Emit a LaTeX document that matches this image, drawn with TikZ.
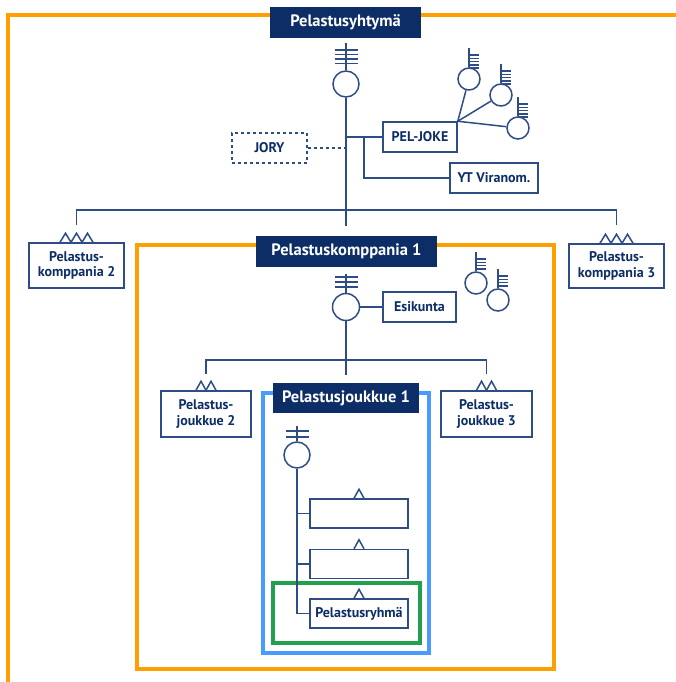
\documentclass[tikz,border=0pt]{standalone}
\usepackage{fontspec}
\setmainfont{PT Sans}
\usepackage{xcolor}
\usepackage{tikz}
\definecolor{navy}{HTML}{0C2D66}
\definecolor{lineblue}{HTML}{2E4D86}
\definecolor{frameorange}{HTML}{FFA000}
\definecolor{frameblue}{HTML}{4A9BFF}
\definecolor{framegreen}{HTML}{22A04E}

\begin{document}
\begin{tikzpicture}[x=1pt, y=-1pt,
  link/.style={draw=lineblue, line width=1.5pt},
  frame/.style={line width=4pt},
  titlebox/.style={fill=navy, text=white, font=\fontsize{16.5}{18}\selectfont\bfseries, inner sep=0pt},
  unitbox/.style={draw=lineblue, line width=1.5pt, fill=white, text=navy, font=\fontsize{14}{15.5}\selectfont\bfseries, align=center, inner sep=0pt},
  leader/.style={circle, draw=lineblue, line width=1.5pt, inner sep=0pt}]
  \useasboundingbox (0,0) rectangle (675,682);
  % Frames
  \draw[frame, frameorange] (8,690) -- (8,15) -- (680,15);
  \draw[frame, frameorange] (137,245) rectangle (554,669);
  \draw[frame, frameblue] (263,393) rectangle (429,653);
  \draw[frame, framegreen] (273,583) rectangle (420,643);
  % Titles
  \node[titlebox, minimum width=151, minimum height=31] (yhtyma) at (345.5,22.5) {Pelastusyhtymä};
  \node[titlebox, minimum width=181, minimum height=31] (komp1) at (346.5,251.5) {Pelastuskomppania 1};
  \node[titlebox, minimum width=146, minimum height=30] (jouk1) at (346,398) {Pelastusjoukkue 1};
  % Leaders
  \node[leader, minimum size=26] (c0) at (346,84) {};
  \draw[link] (c0.north) -- ++(0,-27);
  \foreach \y in {50,54.5,59,63.5} \draw[link] (334.5,\y) -- (357.5,\y);
  \node[leader, minimum size=27] (c1) at (346,307) {};
  \draw[link] (c1.north) -- ++(0,-19);
  \foreach \y in {277,282,287} \draw[link] (334.5,\y) -- (357.5,\y);
  \node[leader, minimum size=26] (c2) at (297,455) {};
  \draw[link] (c2.north) -- ++(0,-15);
  \foreach \y in {431,437} \draw[link] (285.5,\y) -- (308.5,\y);
  % Staff leaders
  \foreach \n/\cx/\cy/\k in {s1/469/79/5, s2/501/95/5, s3/518/128/5, t1/476/283/4, t2/498/300/4} {
    \node[leader, minimum size=22] (\n) at (\cx,\cy) {};
    \draw[link] (\n.north) -- ++(0,-19);
    \foreach \j in {1,...,\k} \draw[link] (\cx,\cy-11-19+3+\j*3.2) -- ++(10,0);
  }
  % Units
  \node[unitbox, dashed, minimum width=75, minimum height=30] (jory) at (269.5,148) {JORY};
  \node[unitbox, minimum width=74, minimum height=30] (peljoke) at (420,137) {PEL-JOKE};
  \node[unitbox, minimum width=88, minimum height=30] (ytvir) at (494,178) {YT Viranom.};
  \node[unitbox, minimum width=95, minimum height=45] (komp2) at (76.5,265.5) {Pelastus-\\komppania 2};
  \node[unitbox, minimum width=95, minimum height=44] (komp3) at (616.5,266) {Pelastus-\\komppania 3};
  \node[unitbox, minimum width=73, minimum height=30] (esikunta) at (419.5,307) {Esikunta};
  \node[unitbox, minimum width=90, minimum height=46] (jouk2) at (206,414) {Pelastus-\\joukkue 2};
  \node[unitbox, minimum width=91, minimum height=46] (jouk3) at (486.5,414) {Pelastus-\\joukkue 3};
  \node[unitbox, minimum width=98, minimum height=29] (ryhma1) at (359,513.5) {};
  \node[unitbox, minimum width=98, minimum height=29] (ryhma2) at (359,564) {};
  \node[unitbox, minimum width=98, minimum height=29] (ryhma3) at (359,613.5) {Pelastusryhmä};
  % Unit marks
  \foreach \n in {komp2, komp3}
    \foreach \i in {-1,0,1} \draw[link] ([xshift={\i*11-5.5}]\n.north) -- ++(5.5,-9) -- ++(5.5,9);
  \foreach \n in {jouk2, jouk3}
    \foreach \i in {-0.5,0.5} \draw[link] ([xshift={\i*10-5}]\n.north) -- ++(5,-9) -- ++(5,9);
  \foreach \n in {ryhma1, ryhma2, ryhma3}
    \draw[link] ([xshift=-5]\n.north) -- ++(5,-9) -- ++(5,9);
  % Connectors
  \coordinate (bus0) at (346,210);
  \coordinate (bus1) at (346,360);
  \coordinate (jb) at (364,137);
  \draw[link] (c0.south) -- ([yshift=10]c0.south |- komp1.north);
  \draw[link] (peljoke.west) -- (c0.south |- peljoke.west);
  \draw[link] (ytvir.west) -| (jb);
  \draw[link, dashed] (jory.east) -- (c0.south |- jory.east);
  \foreach \n in {s1, s2, s3} \draw[link] (peljoke.north east) -- (\n);
  \draw[link] ([yshift=17]komp2.north) |- (bus0) -| ([yshift=18]komp3.north);
  \draw[link] (c1) -- (esikunta.west);
  \draw[link] (c1.south) -- ([yshift=8]c1.south |- jouk1.north);
  \draw[link] ([yshift=16]jouk2.north) |- (bus1) -| ([yshift=16]jouk3.north);
  \draw[link] (c2.south) |- (ryhma3.west);
  \draw[link] (c2.south |- ryhma1.west) -- (ryhma1.west);
  \draw[link] (c2.south |- ryhma2.west) -- (ryhma2.west);
\end{tikzpicture}
\end{document}
